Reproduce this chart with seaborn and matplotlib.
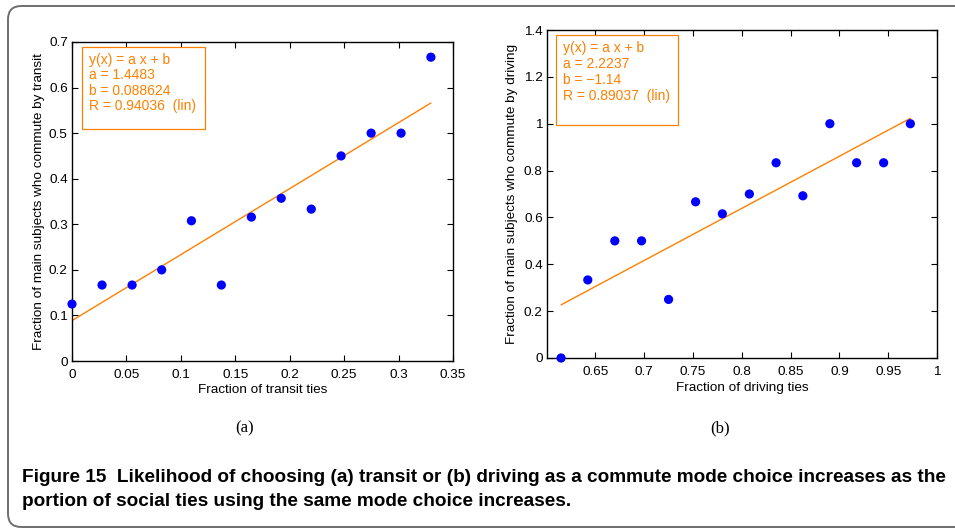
import matplotlib
matplotlib.use("Agg")
import matplotlib.pyplot as plt
from matplotlib.patches import FancyBboxPatch, Rectangle
import numpy as np
import pandas as pd
import seaborn as sns

# (a) transit
transit_ties = [0.0, 0.0276, 0.0552, 0.0824, 0.1097, 0.1372, 0.1648,
                0.1922, 0.2198, 0.2472, 0.2748, 0.3023, 0.3297]
transit_share = [0.125, 0.1667, 0.1667, 0.2, 0.3077, 0.1667, 0.3158,
                 0.3571, 0.3333, 0.45, 0.5, 0.5, 0.6667]
transit_a, transit_b, transit_r = 1.4483, 0.088624, 0.94036

# (b) driving
driving_ties = [0.6147, 0.6421, 0.6698, 0.6972, 0.7249, 0.7526, 0.7800,
                0.8077, 0.8351, 0.8625, 0.8902, 0.9176, 0.9453, 0.9727]
driving_share = [0.0, 0.3333, 0.5, 0.5, 0.25, 0.6667, 0.6154,
                 0.7, 0.8333, 0.6923, 1.0, 0.8333, 0.8333, 1.0]
driving_a, driving_b, driving_r = 2.2237, -1.14, 0.89037

transit_xticks = [0, 0.05, 0.1, 0.15, 0.2, 0.25, 0.3, 0.35]
transit_xlabels = ["0", "0.05", "0.1", "0.15", "0.2", "0.25", "0.3", "0.35"]
transit_yticks = [0, 0.1, 0.2, 0.3, 0.4, 0.5, 0.6, 0.7]
transit_ylabels = ["0", "0.1", "0.2", "0.3", "0.4", "0.5", "0.6", "0.7"]
driving_xticks = [0.65, 0.7, 0.75, 0.8, 0.85, 0.9, 0.95, 1.0]
driving_xlabels = ["0.65", "0.7", "0.75", "0.8", "0.85", "0.9", "0.95", "1"]
driving_yticks = [0, 0.2, 0.4, 0.6, 0.8, 1.0, 1.2, 1.4]
driving_ylabels = ["0", "0.2", "0.4", "0.6", "0.8", "1", "1.2", "1.4"]

sns.set_style("ticks")
plt.rcParams["font.family"] = ["Liberation Sans", "DejaVu Sans"]
plt.rcParams["text.color"] = "black"
plt.rcParams["axes.labelcolor"] = "black"

FS = 9.7
BLUE = (0, 0, 1)
ORANGE = (1, 0.5, 0)

fig = plt.figure(figsize=(9.55, 5.28), dpi=100)

# rounded frame around the figure
frame = FancyBboxPatch((8 / 955, 1 / 528), 1.2, 521 / 528,
                       boxstyle="round,pad=0,rounding_size=0.014",
                       transform=fig.transFigure, fill=False,
                       edgecolor="#6e6e6e", linewidth=1.4, clip_on=False,
                       mutation_aspect=955 / 528)
fig.patches.append(frame)

ax1 = fig.add_axes([72 / 955, (528 - 361) / 528, 381 / 955, 319 / 528])
ax2 = fig.add_axes([547 / 955, (528 - 358) / 528, 390 / 955, 328 / 528])


def panel(ax, xs, ys, a, b, r, xlim, ylim, xticks, xlabels, yticks, ylabels,
          xlabel, ylabel, box, text_x, text_ys, b_text, xlabelpad, ylabelpad):
    df = pd.DataFrame({"x": xs, "y": ys})
    xfit = [min(xs), max(xs)]
    fit = pd.DataFrame({"x": xfit, "y": [a * v + b for v in xfit]})
    sns.lineplot(data=fit, x="x", y="y", ax=ax, color=ORANGE, linewidth=1.0)
    sns.scatterplot(data=df, x="x", y="y", ax=ax, color=BLUE, s=44,
                    edgecolor="none", zorder=3, clip_on=False)
    ax.set_xlim(*xlim)
    ax.set_ylim(*ylim)
    ax.set_xticks(xticks)
    ax.set_xticklabels(xlabels)
    ax.set_yticks(yticks)
    ax.set_yticklabels(ylabels)
    ax.tick_params(direction="in", length=4, width=0.8, top=True, right=True,
                   labelsize=FS, pad=3, colors="black")
    ax.tick_params(axis="x", pad=5.8)
    for s in ax.spines.values():
        s.set_linewidth(1.0)
        s.set_color("black")
    ax.set_xlabel(xlabel, fontsize=FS, labelpad=xlabelpad)
    ax.set_ylabel(ylabel, fontsize=FS, labelpad=ylabelpad)
    x0, y0, x1, y1 = box
    ax.add_patch(Rectangle((x0, y0), x1 - x0, y1 - y0, transform=ax.transAxes,
                           fill=True, facecolor="white", edgecolor=ORANGE,
                           linewidth=0.9, zorder=4))
    lines = ["y(x) = a x + b", f"a = {a:g}", b_text, f"R = {r:g}  (lin)"]
    for t, ty in zip(lines, text_ys):
        ax.text(text_x, ty, t, transform=ax.transAxes, color=ORANGE,
                fontsize=10, va="center", ha="left", zorder=5)


panel(ax1, transit_ties, transit_share, transit_a, transit_b, transit_r,
      (0, 0.35), (0, 0.7), transit_xticks, transit_xlabels,
      transit_yticks, transit_ylabels,
      "Fraction of transit ties", "Fraction of main subjects who commute by transit",
      (0.026, 0.727, 0.349, 0.984), 0.045, [0.943, 0.896, 0.847, 0.799],
      f"b = {transit_b:g}", 2, 3)
panel(ax2, driving_ties, driving_share, driving_a, driving_b, driving_r,
      (0.6003, 1.0), (0, 1.4), driving_xticks, driving_xlabels,
      driving_yticks, driving_ylabels,
      "Fraction of driving ties", "Fraction of main subjects who commute by driving",
      (0.023, 0.710, 0.336, 0.985), 0.041, [0.945, 0.897, 0.849, 0.800],
      "b = \u2212" + f"{abs(driving_b):g}", 3, 4)

fig.text(245 / 955, 1 - 428 / 528, "(a)", ha="center", va="center",
         fontsize=12, family=["Liberation Serif", "DejaVu Serif"])
fig.text(720 / 955, 1 - 428 / 528, "(b)", ha="center", va="center",
         fontsize=12, family=["Liberation Serif", "DejaVu Serif"])

cap_font = ["Liberation Sans", "DejaVu Sans"]
fig.text(22 / 955, 1 - 477 / 528,
         "Figure 15  Likelihood of choosing (a) transit or (b) driving as a "
         "commute mode choice increases as the",
         ha="left", va="center", fontsize=13.7, fontweight="bold",
         family=cap_font, color="black")
fig.text(22 / 955, 1 - 501 / 528,
         "portion of social ties using the same mode choice increases.",
         ha="left", va="center", fontsize=13.7, fontweight="bold",
         family=cap_font, color="black")

fig.savefig("out.png", dpi=100)
